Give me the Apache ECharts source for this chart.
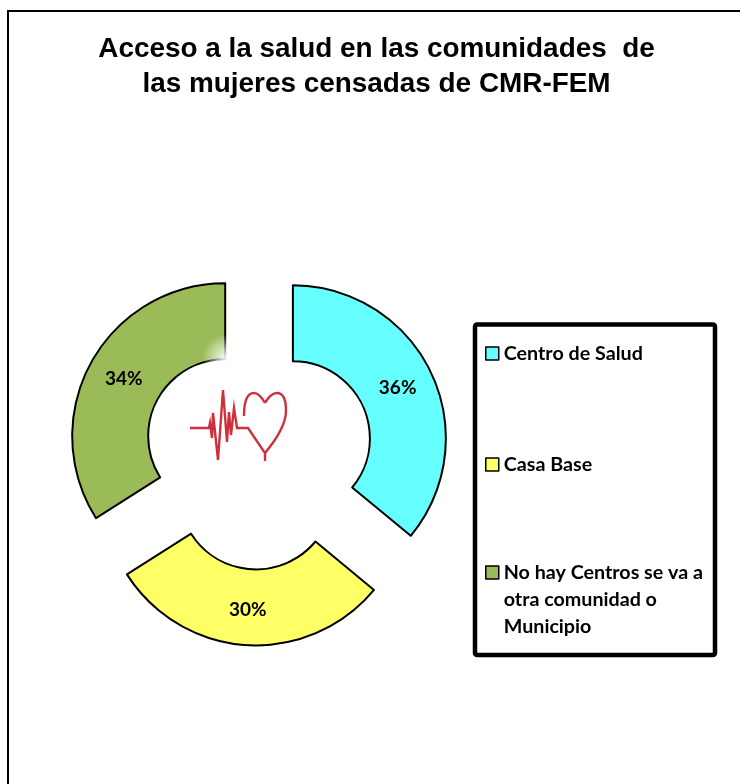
<!DOCTYPE html>
<html>
<head>
<meta charset="utf-8">
<script src="https://cdn.jsdelivr.net/npm/echarts@6/dist/echarts.min.js"></script>
<style>
  html, body { margin: 0; padding: 0; background: #fff; }
  #main { width: 740px; height: 784px; }
</style>
</head>
<body>
<div id="main"></div>
<script>
const titleLines = ['Acceso a la salud en las comunidades  de', 'las mujeres censadas de CMR-FEM'];
const categories = ['Centro de Salud', 'Casa Base', 'No hay Centros se va a\notra comunidad o\nMunicipio'];
const values = [36, 30, 34];
const colors = ['#66FFFF', '#FFFF66', '#9BBB59'];

const myChart = echarts.init(document.getElementById('main'));

// icono del centro: pulso + corazon
const red = '#D0303C';
const pulse = [[190,428],[209,428],[210,423],[212,438],[213,413],[218,460],[223,390],[227,442],[229,412],[231,435],[234,408],[237,428],[248,428],[265,453],[265,461]];
const heartCurves = [
  [265,403, 269,396, 273,393, 277,393],
  [277,393, 284,393, 286,402, 286,411],
  [286,411, 286,425, 275,441, 265,453],
  [265,403, 261,396, 257,393, 254,393],
  [254,393, 248,393, 244,400, 244,416]
];

// ajuste fino de las etiquetas de porcentaje (offset no funciona en inside, se usa padding)
const labelPadding = [[8, 4, 0, 0], [0, 2, 4, 0], [8, 0, 0, 4]];

// la leyenda se parte en dos para que el marcador quede en la primera linea del texto largo
const legendBase = {
  orient: 'vertical',
  left: 485,
  itemWidth: 13,
  itemHeight: 13,
  padding: 0,
  selectedMode: false,
  icon: 'rect',
  itemStyle: { borderColor: '#000', borderWidth: 1.5 },
  textStyle: { fontFamily: 'Lato', fontWeight: 'bold', fontSize: 19.7, lineHeight: 27, color: '#000' }
};

const option = {
  backgroundColor: '#fff',
  animation: false,
  title: {
    text: titleLines.join('\n'),
    left: 371.5,
    top: 27,
    textAlign: 'center',
    textStyle: { fontFamily: 'Liberation Sans', fontWeight: 'bold', fontSize: 27.9, lineHeight: 35, color: '#000' }
  },
  legend: [
    Object.assign({}, legendBase, { top: 340, itemGap: 84, data: categories.slice(0, 2) }),
    Object.assign({}, legendBase, {
      top: 505,
      data: categories.slice(2),
      formatter: name => '\n\n' + name
    })
  ],
  series: [{
    type: 'pie',
    center: [258.5, 454.5],
    radius: [77, 153],
    startAngle: 90,
    clockwise: true,
    selectedMode: 'multiple',
    selectedOffset: 38,
    silent: true,
    label: {
      position: 'inside',
      formatter: '{d}%',
      fontFamily: 'Lato', fontWeight: 'bold', fontSize: 19, color: '#000'
    },
    labelLine: { show: false },
    itemStyle: { borderColor: '#000', borderWidth: 2 },
    data: categories.map((name, i) => ({
      name: name,
      value: values[i],
      selected: true,
      itemStyle: { color: colors[i] },
      label: { padding: labelPadding[i] }
    }))
  }],
  graphic: [
    // marco exterior
    { type: 'polyline', shape: { points: [[8,784],[8,11],[740,11]] }, style: { stroke: '#000', lineWidth: 2, fill: null } },
    // caja de la leyenda
    { type: 'rect', shape: { x: 475, y: 324.5, width: 240, height: 330.5, r: 2 }, style: { stroke: '#000', lineWidth: 4.5, fill: null }, z: -1 },
    // brillo en la esquina del sector verde
    { type: 'circle', shape: { cx: 226, cy: 358, r: 24 }, z: 5, style: {
      fill: { type: 'radial', x: 0.5, y: 0.5, r: 0.5, colorStops: [
        { offset: 0, color: 'rgba(255,255,255,0.95)' },
        { offset: 1, color: 'rgba(255,255,255,0)' }
      ] } } },
    { type: 'polyline', shape: { points: pulse }, z: 6, style: { stroke: red, lineWidth: 2.4, fill: null } }
  ].concat(heartCurves.map(c => ({
    type: 'bezierCurve',
    z: 6,
    shape: { x1: c[0], y1: c[1], cpx1: c[2], cpy1: c[3], cpx2: c[4], cpy2: c[5], x2: c[6], y2: c[7] },
    style: { stroke: red, lineWidth: 2.4, fill: null }
  })))
};

myChart.setOption(option);
</script>
</body>
</html>
